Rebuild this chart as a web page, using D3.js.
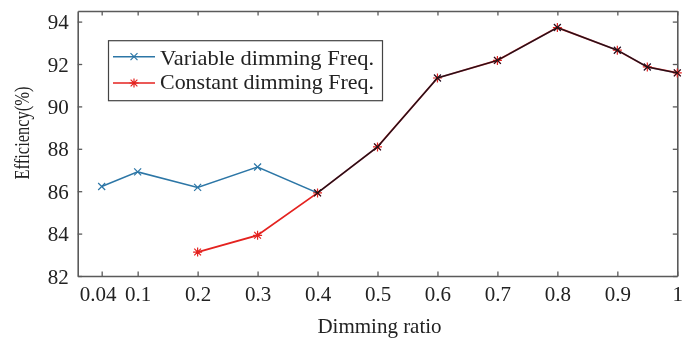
<!DOCTYPE html>
<html>
<head>
<meta charset="utf-8">
<script src="https://cdn.jsdelivr.net/npm/d3@7"></script>
<style>
  html, body { margin: 0; padding: 0; background: #fff; }
  svg { display: block; }
  text { font-family: "Liberation Serif", "Times New Roman", serif; fill: #222; }
</style>
</head>
<body>
<svg id="chart" width="692" height="339"></svg>
<script>
// Efficiency vs dimming ratio for two dimming strategies
const dimmingRatio = [0.04, 0.1, 0.2, 0.3, 0.4, 0.5, 0.6, 0.7, 0.8, 0.9, 0.95, 1];
const variableFreq = [86.22, 86.91, 86.18, 87.14, 85.92, 88.09, 91.34, 92.17, 93.72, 92.65, 91.86, 91.58];
const constantFreq = [null, null, 83.13, 83.92, 85.92, 88.09, 91.34, 92.17, 93.72, 92.65, 91.86, 91.58];
const xTicks = [0.04, 0.1, 0.2, 0.3, 0.4, 0.5, 0.6, 0.7, 0.8, 0.9, 1];
const yTicks = [82, 84, 86, 88, 90, 92, 94];
const seriesNames = ["Variable dimming Freq.", "Constant dimming Freq."];

const W = 692, H = 339;
const m = { left: 77.7, right: W - 677.3, top: 11, bottom: H - 276 };
const svg = d3.select("#chart");

const x = d3.scaleLinear().domain([0, 1]).range([m.left, W - m.right]);
const y = d3.scaleLinear().domain([82, 94.5]).range([H - m.bottom, m.top]);

const axisColor = "#5a5a5a";
const blue = "#2c76a6";
const red = "#e4221f";

// Box axes with inward ticks on all four sides
const fmt = d => String(d);
const gBottom = svg.append("g").attr("transform", `translate(0,${y.range()[0]})`)
  .call(d3.axisBottom(x).tickValues(xTicks).tickFormat(fmt).tickSizeInner(-4.5).tickSizeOuter(0).tickPadding(10));
const gTop = svg.append("g").attr("transform", `translate(0,${m.top})`)
  .call(d3.axisTop(x).tickValues(xTicks).tickFormat("").tickSizeInner(-4.5).tickSizeOuter(0));
const gLeft = svg.append("g").attr("transform", `translate(${m.left},0)`)
  .call(d3.axisLeft(y).tickValues(yTicks).tickFormat(fmt).tickSizeInner(-4.5).tickSizeOuter(0).tickPadding(9));
const gRight = svg.append("g").attr("transform", `translate(${W - m.right},0)`)
  .call(d3.axisRight(y).tickValues(yTicks).tickFormat("").tickSizeInner(-4.5).tickSizeOuter(0));

[gBottom, gTop, gLeft, gRight].forEach(g => {
  g.select(".domain").attr("stroke", axisColor).attr("stroke-width", 1.6);
  g.selectAll(".tick line").attr("stroke", axisColor).attr("stroke-width", 1.3);
  g.selectAll("text").attr("font-size", 21).attr("fill", "#222")
    .style("font-family", "'Liberation Serif', 'Times New Roman', serif");
});
gBottom.selectAll(".tick text").attr("dy", "0.71em")
  .filter(d => d === 0.04).attr("dx", -4);
gLeft.selectAll(".tick text").attr("dy", "0.34em");

// Axis titles
svg.append("text")
  .attr("x", (x.range()[0] + x.range()[1]) / 2 + 2)
  .attr("y", 333)
  .attr("text-anchor", "middle")
  .attr("font-size", 21)
  .text("Dimming ratio");

svg.append("text")
  .attr("transform", "translate(29,133) rotate(-90)")
  .attr("text-anchor", "middle")
  .attr("font-size", 20)
  .attr("textLength", 93)
  .attr("lengthAdjust", "spacingAndGlyphs")
  .text("Efficiency(%)");

// Marker shapes
function crossPath(r) {
  return `M${-r},${-r}L${r},${r}M${-r},${r}L${r},${-r}`;
}
function starPath(r) {
  const d = r * 0.75;
  return `M0,${-r}L0,${r}M${-r},0L${r},0M${-d},${-d}L${d},${d}M${-d},${d}L${d},${-d}`;
}

const line = d3.line()
  .defined(p => p[1] != null)
  .x(p => x(p[0]))
  .y(p => y(p[1]));

const constPts = dimmingRatio.map((r, i) => [r, constantFreq[i]]);
const varPts = dimmingRatio.map((r, i) => [r, variableFreq[i]]);

// Constant dimming frequency series (red, asterisks)
const gConst = svg.append("g");
gConst.append("path").datum(constPts).attr("d", line)
  .attr("fill", "none").attr("stroke", red).attr("stroke-width", 1.8);
gConst.selectAll("path.mk").data(constPts.filter(p => p[1] != null)).join("path")
  .attr("class", "mk")
  .attr("transform", p => `translate(${x(p[0])},${y(p[1])})`)
  .attr("d", starPath(4.5))
  .attr("fill", "none").attr("stroke", red).attr("stroke-width", 1.2);

// Variable dimming frequency series (blue, crosses), multiplied over the red where they coincide
const gVar = svg.append("g").style("mix-blend-mode", "multiply");
gVar.append("path").datum(varPts).attr("d", line)
  .attr("fill", "none").attr("stroke", blue).attr("stroke-width", 1.5);
gVar.selectAll("path.mk").data(varPts).join("path")
  .attr("class", "mk")
  .attr("transform", p => `translate(${x(p[0])},${y(p[1])})`)
  .attr("d", crossPath(3.5))
  .attr("fill", "none").attr("stroke", blue).attr("stroke-width", 1.2);

// Legend
const lg = svg.append("g");
lg.append("rect")
  .attr("x", 108.5).attr("y", 40.7).attr("width", 274).attr("height", 60)
  .attr("fill", "#fff").attr("stroke", "#444").attr("stroke-width", 1.2);
const legendRows = [
  { name: seriesNames[0], color: blue, marker: crossPath(3.5), ly: 56.7, ty: 65 },
  { name: seriesNames[1], color: red, marker: starPath(4.5), ly: 83, ty: 89.3 }
];
legendRows.forEach(r => {
  lg.append("line").attr("x1", 113).attr("x2", 155).attr("y1", r.ly).attr("y2", r.ly)
    .attr("stroke", r.color).attr("stroke-width", 1.6);
  lg.append("path").attr("transform", `translate(134,${r.ly})`).attr("d", r.marker)
    .attr("fill", "none").attr("stroke", r.color).attr("stroke-width", 1.2);
  lg.append("text").attr("x", 160).attr("y", r.ty).attr("font-size", 21)
    .attr("textLength", 214).attr("lengthAdjust", "spacingAndGlyphs")
    .text(r.name);
});
</script>
</body>
</html>
